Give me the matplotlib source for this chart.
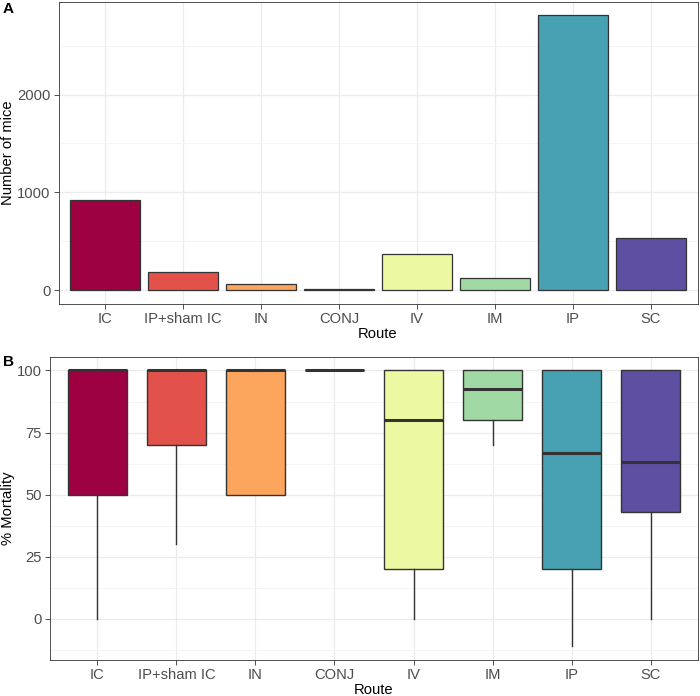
import matplotlib
matplotlib.use("Agg")
import matplotlib.pyplot as plt
from matplotlib.ticker import MultipleLocator

plt.rcParams['font.family'] = ['Liberation Sans', 'DejaVu Sans']

routes = ["IC", "IP+sham IC", "IN", "CONJ", "IV", "IM", "IP", "SC"]
colors = ["#9E0142", "#E2524A", "#FCA55D", "#FEE99A", "#EDF8A3", "#A1D9A4", "#48A1B3", "#5E4FA2"]
mice = [925, 183, 68, 10, 373, 122, 2810, 539]

# box stats: whisker low, q1, median, q3, whisker high
wlo = [0, 30, 50, 100, 0, 70, -11, 0]
q1 = [50, 70, 50, 100, 20, 80, 20, 43]
med = [100, 100, 100, 100, 80, 92.5, 66.7, 63]
q3 = [100, 100, 100, 100, 100, 100, 100, 100]
whi = [100, 100, 100, 100, 100, 100, 100, 100]

fig = plt.figure(figsize=(7, 6.96), dpi=100)
W, H = 700, 696
A_l, A_r, A_t, A_b = 58.5, 697.5, 1.5, 304
B_l, B_r, B_t, B_b = 50, 698, 356.7, 660
axA = fig.add_axes([A_l/W, 1 - A_b/H, (A_r-A_l)/W, (A_b-A_t)/H])
axB = fig.add_axes([B_l/W, 1 - B_b/H, (B_r-B_l)/W, (B_b-B_t)/H])

edge = "#333333"
tickc = "#4D4D4D"
grid_major = "#EBEBEB"
grid_minor = "#F3F3F3"
FS = 10.6

x = list(range(1, len(routes) + 1))

def style(ax, l, r, t, b, ylab):
    ax.set_facecolor("white")
    for s in ax.spines.values():
        s.set_color("#333333")
        s.set_linewidth(0.6)
    ax.grid(True, which="major", color=grid_major, linewidth=0.9, zorder=0)
    ax.grid(True, which="minor", axis="y", color=grid_minor, linewidth=0.6, zorder=0)
    ax.set_axisbelow(True)
    ax.tick_params(axis="both", which="major", length=3.8, color=edge, width=0.6,
                   labelsize=FS, labelcolor=tickc, pad=2)
    ax.tick_params(axis="both", which="minor", length=0)
    ax.set_xticks(x)
    ax.set_xticklabels(routes)
    ax.set_xlim(0.4, 8.6)
    ax.set_xlabel("Route", fontsize=FS, color="black", va="center")
    ax.xaxis.set_label_coords(0.5, -30.5 / (b - t))
    ax.set_ylabel(ylab, fontsize=FS, color="black", va="center")
    ax.yaxis.set_label_coords((8.5 - l) / (r - l), 0.5)

# Panel A
axA.bar(x, mice, width=0.9, color=colors, edgecolor=edge, linewidth=0.9, zorder=3)
ymax = max(mice)
axA.set_ylim(-0.05 * ymax, ymax * 1.05)
axA.yaxis.set_major_locator(MultipleLocator(1000))
axA.yaxis.set_minor_locator(MultipleLocator(500))
style(axA, A_l, A_r, A_t, A_b, "Number of mice")

# Panel B
stats = []
for i in range(len(routes)):
    stats.append(dict(whislo=wlo[i], q1=q1[i], med=med[i], q3=q3[i], whishi=whi[i], fliers=[]))
bp = axB.bxp(stats, positions=x, widths=0.75, patch_artist=True, showcaps=False,
             boxprops=dict(edgecolor=edge, linewidth=1.0),
             medianprops=dict(color=edge, linewidth=2.2),
             whiskerprops=dict(color=edge, linewidth=1.0), zorder=3)
for p, c in zip(bp["boxes"], colors):
    p.set_facecolor(c)
lo = min(wlo); hi = max(whi)
rng = hi - lo
axB.set_ylim(lo - 0.05 * rng, hi + 0.05 * rng)
axB.yaxis.set_major_locator(MultipleLocator(25))
axB.yaxis.set_minor_locator(MultipleLocator(12.5))
style(axB, B_l, B_r, B_t, B_b, "% Mortality")

fig.text(3/W, 1 - 9/H, "A", fontsize=11, fontweight="bold", va="center", ha="left")
fig.text(3/W, 1 - 362/H, "B", fontsize=11, fontweight="bold", va="center", ha="left")

fig.savefig("out.png", dpi=100)
